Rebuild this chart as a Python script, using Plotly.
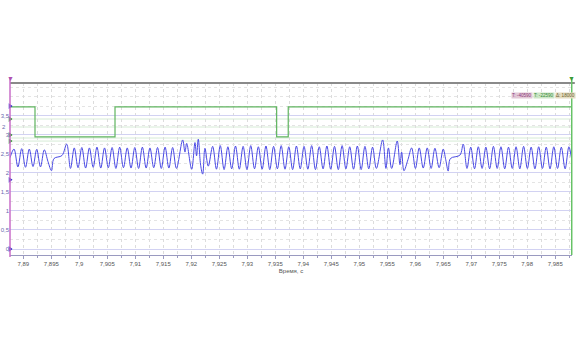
import plotly.graph_objects as go

# ---------------- data ----------------
T0 = 7.89  # seconds; times below are milliseconds after T0

# blue analog channel: extrema (ms after 7.89 s) and values
seg_a_ms = [-2.375, -1.661, -0.964, -0.286, 0.393, 1.071, 1.732, 2.393, 3.071, 3.750,
            4.411, 5.036, 5.482, 6.911, 7.750]
seg_a_v = [2.40, 2.63, 2.16, 2.64, 2.15, 2.63, 2.17, 2.62, 2.16, 2.61,
           2.30, 2.06, 2.38, 2.46, 2.76]

seg_b_ms = [8.426, 9.102, 9.778, 10.454, 11.129, 11.805, 12.481, 13.157, 13.833, 14.509,
            15.185, 15.861, 16.537, 17.213, 17.889, 18.564, 19.240, 19.916, 20.592, 21.268,
            21.944, 22.620, 23.296, 23.972, 24.648, 25.323, 25.999, 26.675, 27.351]
seg_b_v = [2.12, 2.66, 2.14, 2.67, 2.13, 2.66, 2.15, 2.68, 2.13, 2.66,
           2.14, 2.67, 2.12, 2.68, 2.14, 2.66, 2.13, 2.67, 2.12, 2.68,
           2.13, 2.66, 2.14, 2.67, 2.12, 2.68, 2.13, 2.67, 2.12]

burst1_ms = [28.464, 28.875, 29.179, 30.071, 30.661, 30.946, 31.250, 31.679, 32.036, 32.446, 33.036]
burst1_v = [2.87, 2.55, 2.78, 2.10, 2.80, 2.45, 2.89, 2.20, 1.97, 2.65, 2.18]

seg_c_ms = [33.821, 34.501, 35.181, 35.861, 36.541, 37.221, 37.901, 38.581, 39.261, 39.941,
            40.621, 41.301, 41.981, 42.661, 43.341, 44.021, 44.701, 45.381, 46.061, 46.741,
            47.421, 48.101, 48.781, 49.461, 50.141, 50.821, 51.501, 52.181, 52.861, 53.541,
            54.221, 54.901, 55.581, 56.261, 56.941, 57.621, 58.301, 58.981, 59.661, 60.341,
            61.021, 61.701, 62.381, 63.061]
seg_c_v = [2.70, 2.10, 2.72, 2.09, 2.69, 2.11, 2.71, 2.10, 2.70, 2.09,
           2.72, 2.11, 2.69, 2.10, 2.71, 2.09, 2.70, 2.11, 2.72, 2.10,
           2.69, 2.09, 2.71, 2.11, 2.70, 2.10, 2.72, 2.09, 2.69, 2.11,
           2.71, 2.10, 2.70, 2.09, 2.72, 2.11, 2.69, 2.10, 2.71, 2.09,
           2.70, 2.11, 2.68, 2.12]

burst2_ms = [64.179, 64.768, 65.214, 65.786, 66.786, 67.268, 67.571, 67.982, 68.696]
burst2_v = [2.87, 2.12, 2.66, 2.12, 2.84, 2.22, 2.55, 2.06, 2.35]

seg_d_ms = [69.357, 70.036, 70.714, 71.429, 72.143, 72.839, 73.518, 74.268, 75.000,
            75.446, 75.893, 76.286, 77.982, 78.571]
seg_d_v = [2.66, 2.12, 2.66, 2.13, 2.66, 2.12, 2.65, 2.14, 2.63,
           2.35, 2.05, 2.38, 2.47, 2.76]

seg_e_ms = [79.245, 79.919, 80.593, 81.267, 81.941, 82.615, 83.289, 83.963, 84.637, 85.311,
            85.985, 86.659, 87.333, 88.007, 88.681, 89.355, 90.029, 90.703, 91.377, 92.051,
            92.725, 93.399, 94.073, 94.747, 95.421, 96.095, 96.769, 97.443, 97.893]
seg_e_v = [2.12, 2.68, 2.11, 2.69, 2.12, 2.68, 2.11, 2.70, 2.12, 2.69,
           2.11, 2.68, 2.12, 2.69, 2.11, 2.70, 2.12, 2.68, 2.11, 2.69,
           2.12, 2.68, 2.11, 2.69, 2.12, 2.68, 2.11, 2.69, 2.40]

# green digital channel (step signal)
green_ms = [-2.375, 2.09, 2.09, 16.38, 16.38, 45.25, 45.25, 47.32, 47.32, 97.93]
green_v = [3.74, 3.74, 2.95, 2.95, 3.74, 3.74, 2.95, 2.95, 3.74, 3.74]

# axis ticks
x_tickvals = [7.89, 7.895, 7.9, 7.905, 7.91, 7.915, 7.92, 7.925, 7.93, 7.935, 7.94, 7.945,
              7.95, 7.955, 7.96, 7.965, 7.97, 7.975, 7.98, 7.985]
x_ticktext = ["7,89", "7,895", "7,9", "7,905", "7,91", "7,915", "7,92", "7,925", "7,93", "7,935",
              "7,94", "7,945", "7,95", "7,955", "7,96", "7,965", "7,97", "7,975", "7,98", "7,985"]
y_tickvals = [0, 0.5, 1, 1.5, 2, 2.5, 3, 3.5]
y_ticktext = ["0", "0,5", "1", "1,5", "2", "2,5", "3", "3,5"]

x_range = [7.887625, 7.98800]
y_range = [-0.158, 4.368]

blue_levels = [3.76, 1.82, 0.0]
green_levels = [3.42, 3.0, 2.84]
green_grid = [3.42, 3.21, 2.92, 2.84]

cursor_text = ["T: -40590", "T: -22590", "Δ: 18000"]

# ---------------- build ----------------
blue_ms = seg_a_ms + seg_b_ms + burst1_ms + seg_c_ms + burst2_ms + seg_d_ms + seg_e_ms
blue_v = seg_a_v + seg_b_v + burst1_v + seg_c_v + burst2_v + seg_d_v + seg_e_v
assert len(blue_ms) == len(blue_v)
blue_t = [T0 + m / 1000 for m in blue_ms]
green_t = [T0 + m / 1000 for m in green_ms]

fig = go.Figure()

fig.add_trace(go.Scatter(x=green_t, y=green_v, mode="lines",
                         line=dict(color="#5fb45f", width=1.2), hoverinfo="skip"))
fig.add_trace(go.Scatter(x=blue_t, y=blue_v, mode="lines",
                         line=dict(color="#4a4ae4", width=1, shape="spline", smoothing=1.0),
                         hoverinfo="skip"))

# channel level markers on the left edge
fig.add_trace(go.Scatter(x=[x_range[0]] * len(blue_levels), y=blue_levels, mode="markers",
                         marker=dict(symbol="triangle-right", size=5, color="#2b2bc8"),
                         cliponaxis=False, hoverinfo="skip"))
fig.add_trace(go.Scatter(x=[x_range[0]] * len(green_levels), y=green_levels, mode="markers",
                         marker=dict(symbol="triangle-right", size=5, color="#2e8b2e"),
                         cliponaxis=False, hoverinfo="skip"))

shapes = []
for gl in green_grid:
    shapes.append(dict(type="line", xref="paper", yref="y", x0=0, x1=1, y0=gl, y1=gl,
                       line=dict(color="#d6ebd6", width=1), layer="below"))
# top frame line
shapes.append(dict(type="line", xref="paper", yref="paper", x0=0, x1=1.005, y0=1, y1=1,
                   line=dict(color="#8a8a8a", width=2)))
# left (magenta) cursor
shapes.append(dict(type="line", xref="paper", yref="paper", x0=0, x1=0, y0=-0.012, y1=1.035,
                   line=dict(color="#c86ec8", width=1.5)))
# right (green) cursor
shapes.append(dict(type="line", xref="paper", yref="paper", x0=0.9995, x1=0.9995, y0=0, y1=1.035,
                   line=dict(color="#66c266", width=1.5)))

annotations = [
    dict(xref="paper", yref="paper", x=0, y=1.025, text="▼", showarrow=False,
         font=dict(size=7, color="#b050b0"), xanchor="center", yanchor="middle"),
    dict(xref="paper", yref="paper", x=0.9995, y=1.025, text="▼", showarrow=False,
         font=dict(size=7, color="#3a9a3a"), xanchor="center", yanchor="middle"),
]
box_x = [0.8915, 0.931, 0.9695]
box_bg = ["#e2c8d6", "#cde6c6", "#e4dcc0"]
box_fc = ["#8a3a7a", "#3a8a3a", "#6a6030"]
for bx, txt, bg, fc in zip(box_x, cursor_text, box_bg, box_fc):
    annotations.append(dict(xref="paper", yref="paper", x=bx, y=0.927, text=txt,
                            showarrow=False, xanchor="left", yanchor="middle",
                            bgcolor=bg, borderpad=0,
                            font=dict(size=4.6, color=fc, family="Liberation Sans")))
# extra green-scale label
annotations.append(dict(xref="paper", yref="y", x=-0.004, y=3.21, text="2", showarrow=False,
                        xanchor="right", yanchor="middle",
                        font=dict(size=6, color="#6a6ab0", family="Liberation Sans")))

fig.update_layout(
    width=578, height=350,
    margin=dict(l=10, r=6, t=83, b=95),
    paper_bgcolor="white", plot_bgcolor="white",
    showlegend=False,
    font=dict(family="Liberation Sans", size=6, color="#555"),
    shapes=shapes, annotations=annotations,
    xaxis=dict(range=x_range, tickvals=x_tickvals, ticktext=x_ticktext,
               showgrid=True, gridcolor="#dcdcdc", griddash="dot", gridwidth=1,
               minor=dict(dtick=0.0025, tick0=7.89, showgrid=True, gridcolor="#dcdcdc",
                          griddash="dot", ticks="outside", ticklen=2, tickcolor="#9a9ac0"),
               ticks="outside", ticklen=3, tickcolor="#9a9ac0",
               showline=True, linecolor="#9a9ac0", linewidth=1,
               zeroline=False, automargin=False,
               tickfont=dict(size=6, color="#555"),
               title=dict(text="Время, с", font=dict(size=6, color="#555"), standoff=2)),
    yaxis=dict(range=y_range, tickvals=y_tickvals, ticktext=y_ticktext,
               showgrid=True, gridcolor="#d2d2f2", gridwidth=1,
               minor=dict(dtick=0.25, tick0=0, showgrid=True, gridcolor="#e4e4e4", griddash="dot"),
               ticks="", showline=False, zeroline=False, automargin=False,
               tickfont=dict(size=6, color="#6a6ab0")),
)

fig.write_html("out.html")
